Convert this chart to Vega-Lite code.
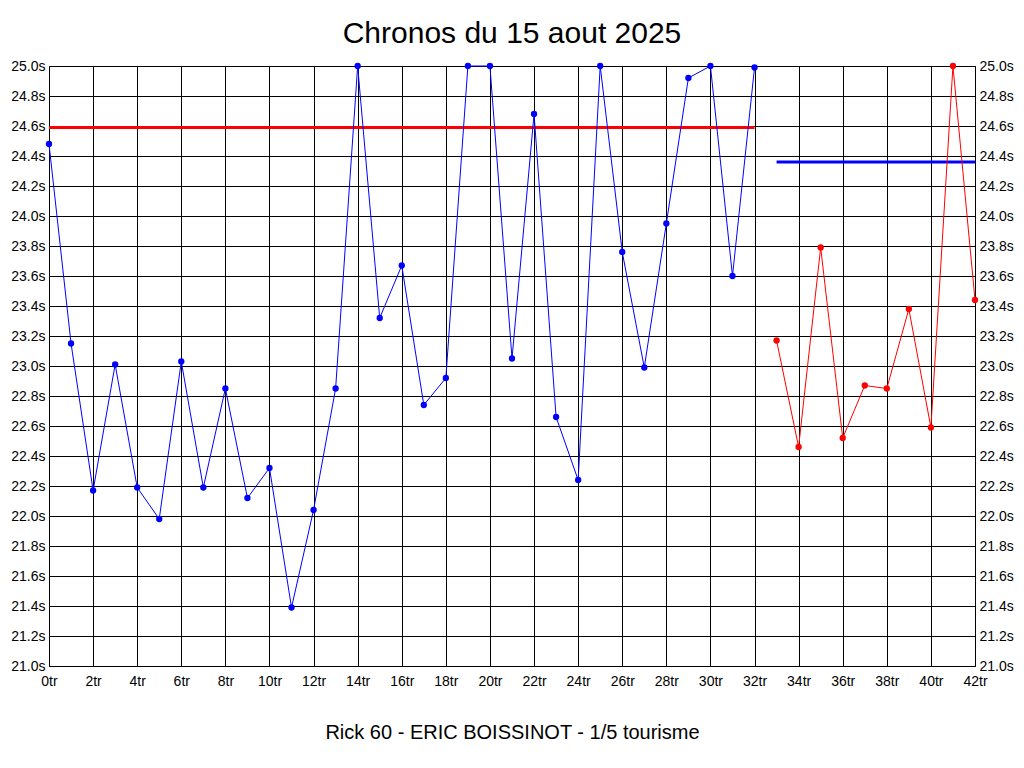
{
  "$schema": "https://vega.github.io/schema/vega-lite/v6.json",
  "width": 926,
  "height": 600,
  "autosize": {"type": "none"},
  "padding": {"left": 49, "top": 66, "right": 49, "bottom": 102},
  "background": "white",
  "title": {
    "text": "Chronos du 15 aout 2025",
    "font": "Liberation Sans",
    "fontSize": 30,
    "fontWeight": "normal",
    "color": "black",
    "anchor": "middle",
    "baseline": "alphabetic",
    "offset": 16,
    "dy": 30
  },
  "datasets": {
    "laps": [
      {"lap": 0, "time": 24.48, "series": "session 1"},
      {"lap": 1, "time": 23.15, "series": "session 1"},
      {"lap": 2, "time": 22.17, "series": "session 1"},
      {"lap": 3, "time": 23.01, "series": "session 1"},
      {"lap": 4, "time": 22.19, "series": "session 1"},
      {"lap": 5, "time": 21.98, "series": "session 1"},
      {"lap": 6, "time": 23.03, "series": "session 1"},
      {"lap": 7, "time": 22.19, "series": "session 1"},
      {"lap": 8, "time": 22.85, "series": "session 1"},
      {"lap": 9, "time": 22.12, "series": "session 1"},
      {"lap": 10, "time": 22.32, "series": "session 1"},
      {"lap": 11, "time": 21.39, "series": "session 1"},
      {"lap": 12, "time": 22.04, "series": "session 1"},
      {"lap": 13, "time": 22.85, "series": "session 1"},
      {"lap": 14, "time": 25.0, "series": "session 1"},
      {"lap": 15, "time": 23.32, "series": "session 1"},
      {"lap": 16, "time": 23.67, "series": "session 1"},
      {"lap": 17, "time": 22.74, "series": "session 1"},
      {"lap": 18, "time": 22.92, "series": "session 1"},
      {"lap": 19, "time": 25.0, "series": "session 1"},
      {"lap": 20, "time": 25.0, "series": "session 1"},
      {"lap": 21, "time": 23.05, "series": "session 1"},
      {"lap": 22, "time": 24.68, "series": "session 1"},
      {"lap": 23, "time": 22.66, "series": "session 1"},
      {"lap": 24, "time": 22.24, "series": "session 1"},
      {"lap": 25, "time": 25.0, "series": "session 1"},
      {"lap": 26, "time": 23.76, "series": "session 1"},
      {"lap": 27, "time": 22.99, "series": "session 1"},
      {"lap": 28, "time": 23.95, "series": "session 1"},
      {"lap": 29, "time": 24.92, "series": "session 1"},
      {"lap": 30, "time": 25.0, "series": "session 1"},
      {"lap": 31, "time": 23.6, "series": "session 1"},
      {"lap": 32, "time": 24.99, "series": "session 1"},
      {"lap": 33, "time": 23.17, "series": "session 2"},
      {"lap": 34, "time": 22.46, "series": "session 2"},
      {"lap": 35, "time": 23.79, "series": "session 2"},
      {"lap": 36, "time": 22.52, "series": "session 2"},
      {"lap": 37, "time": 22.87, "series": "session 2"},
      {"lap": 38, "time": 22.85, "series": "session 2"},
      {"lap": 39, "time": 23.38, "series": "session 2"},
      {"lap": 40, "time": 22.59, "series": "session 2"},
      {"lap": 41, "time": 25.0, "series": "session 2"},
      {"lap": 42, "time": 23.44, "series": "session 2"}
    ],
    "refs": [
      {"series": "ref 1", "start": 0, "end": 32, "time": 24.59},
      {"series": "ref 2", "start": 33, "end": 42, "time": 24.36}
    ]
  },
  "layer": [
    {
      "encoding": {
        "y": {
          "field": "time",
          "type": "quantitative",
          "scale": {"domain": [21, 25], "nice": false, "zero": false},
          "axis": {
            "orient": "left",
            "title": null,
            "values": [21, 21.2, 21.4, 21.6, 21.8, 22, 22.2, 22.4, 22.6, 22.8, 23, 23.2, 23.4, 23.6, 23.8, 24, 24.2, 24.4, 24.6, 24.8, 25],
            "labelExpr": "format(datum.value, '.1f') + 's'",
            "labelPadding": 4
          }
        }
      },
      "layer": [
        {
          "data": {"name": "refs"},
          "mark": {"type": "rule", "strokeWidth": 3},
          "encoding": {
            "x": {"field": "start", "type": "quantitative"},
            "x2": {"field": "end"},
            "color": {"field": "series", "type": "nominal"}
          }
        },
        {
          "data": {"name": "laps"},
          "mark": {"type": "line", "strokeWidth": 1},
          "encoding": {
            "x": {
              "field": "lap",
              "type": "quantitative",
              "scale": {"domain": [0, 42], "nice": false, "zero": false},
              "axis": {
                "values": [0, 2, 4, 6, 8, 10, 12, 14, 16, 18, 20, 22, 24, 26, 28, 30, 32, 34, 36, 38, 40, 42],
                "labelExpr": "datum.value + 'tr'",
                "labelPadding": 8,
                "labelFlush": false,
                "title": "Rick 60 - ERIC BOISSINOT - 1/5 tourisme",
                "titleFont": "Liberation Sans",
                "titleFontSize": 20,
                "titleFontWeight": "normal",
                "titleColor": "black",
                "titlePadding": 34
              }
            },
            "color": {
              "field": "series",
              "type": "nominal",
              "legend": null,
              "scale": {
                "domain": ["session 1", "session 2", "ref 1", "ref 2"],
                "range": ["#0000ff", "#ff0000", "#ff0000", "#0000ff"]
              }
            }
          }
        },
        {
          "data": {"name": "laps"},
          "mark": {"type": "point", "filled": true, "opacity": 1, "size": 40},
          "encoding": {
            "x": {"field": "lap", "type": "quantitative"},
            "color": {"field": "series", "type": "nominal"}
          }
        }
      ]
    },
    {
      "data": {"name": "refs"},
      "mark": {"type": "rule", "opacity": 0},
      "encoding": {
        "y": {
          "field": "time",
          "type": "quantitative",
          "scale": {"domain": [21, 25], "nice": false, "zero": false},
          "axis": {
            "orient": "right",
            "title": null,
            "grid": false,
            "values": [21, 21.2, 21.4, 21.6, 21.8, 22, 22.2, 22.4, 22.6, 22.8, 23, 23.2, 23.4, 23.6, 23.8, 24, 24.2, 24.4, 24.6, 24.8, 25],
            "labelExpr": "format(datum.value, '.1f') + 's'",
            "labelPadding": 4
          }
        }
      }
    }
  ],
  "resolve": {"scale": {"y": "independent"}},
  "config": {
    "view": {"stroke": "black", "strokeWidth": 1},
    "axis": {
      "domain": false,
      "ticks": false,
      "grid": true,
      "gridColor": "black",
      "gridOpacity": 1,
      "gridWidth": 1,
      "labelFont": "Liberation Sans",
      "labelFontSize": 14,
      "labelColor": "black"
    }
  }
}
